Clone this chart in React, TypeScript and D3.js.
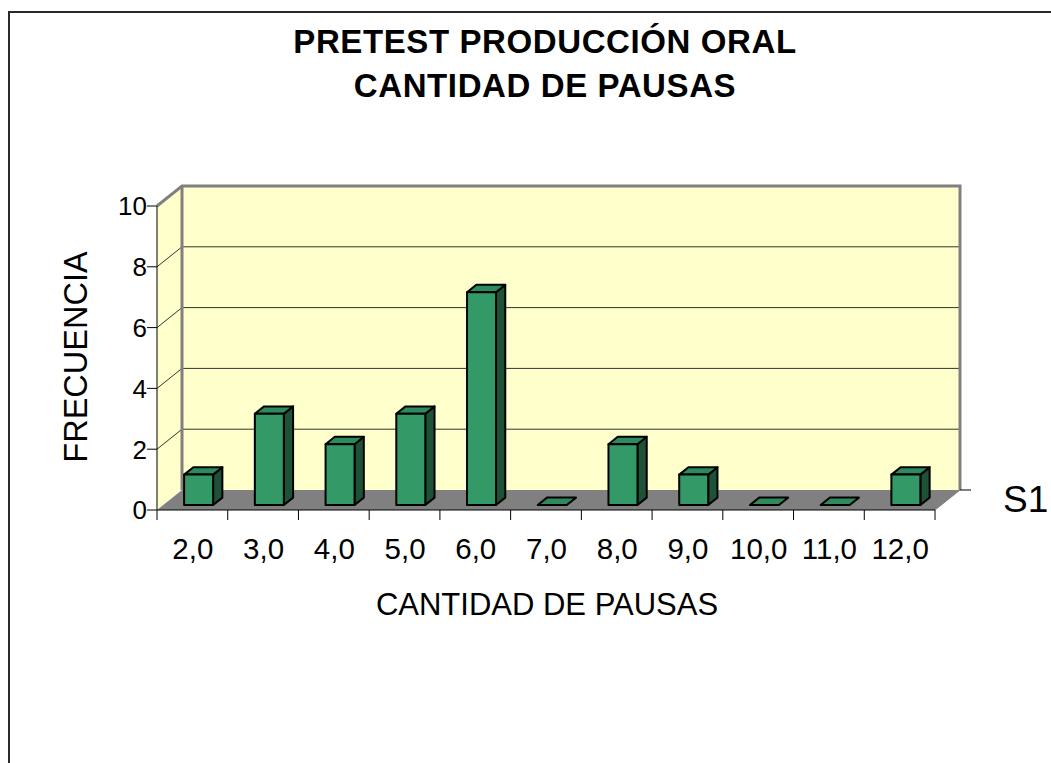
import React from "react";
import * as d3 from "d3";

const categories = ["2,0", "3,0", "4,0", "5,0", "6,0", "7,0", "8,0", "9,0", "10,0", "11,0", "12,0"];
const values = [1, 3, 2, 3, 7, 0, 2, 1, 0, 0, 1];
const yTicks = [0, 2, 4, 6, 8, 10];
const titleLines = ["PRETEST PRODUCCIÓN ORAL", "CANTIDAD DE PAUSAS"];
const xTitle = "CANTIDAD DE PAUSAS";
const yTitle = "FRECUENCIA";
const seriesName = "S1";

const W = 1051, H = 763;
const FONT = "Liberation Sans, Arial, sans-serif";

export default function App() {
  const x = d3.scaleBand<string>().domain(categories).range([157, 935]).padding(0);
  const y = d3.scaleLinear().domain([0, 10]).range([510, 206]);
  const DX = 25, DY = -20;
  const dxs = d3.scaleLinear().domain([0, 1]).range([0, DX]);
  const dys = d3.scaleLinear().domain([0, 1]).range([0, DY]);
  const f1 = 0.25, f2 = 0.62;
  const bw = x.bandwidth() * 0.41;
  const x0 = 157, x1 = 935, y0 = y(0), yTop = y(10);

  const pts = (p: number[][]) => p.map((q) => q.join(",")).join(" ");

  const bars = categories.map((c, i) => {
    const v = values[i];
    const cx = (x(c) as number) + x.bandwidth() / 2;
    const l = cx - bw / 2 + dxs(f1), r = cx + bw / 2 + dxs(f1);
    const yb = y(0) + dys(f1), yt = y(v) + dys(f1);
    const ddx = dxs(f2) - dxs(f1), ddy = dys(f2) - dys(f1);
    const front = [[l, yt], [r, yt], [r, yb], [l, yb]];
    const side = [[r, yt], [r + ddx, yt + ddy], [r + ddx, yb + ddy], [r, yb]];
    const top = [[l, yt], [l + ddx, yt + ddy], [r + ddx, yt + ddy], [r, yt]];
    return (
      <g key={c} stroke="#000" strokeWidth={2} strokeLinejoin="round">
        {v > 0 && <polygon points={pts(side)} fill="#1e5236" />}
        <polygon points={pts(top)} fill="#2e8a5c" />
        {v > 0 && <polygon points={pts(front)} fill="#339966" />}
      </g>
    );
  });

  return (
    <svg width={W} height={H} style={{ position: "absolute", left: 0, top: 0, background: "#fff" }} fontFamily={FONT}>
      <rect x={9} y={12} width={1200} height={900} fill="#fff" stroke="#2a2a2a" strokeWidth={2} />
      {titleLines.map((t, i) => (
        <text key={t} x={545} y={53 + i * 44} textAnchor="middle" fontSize={33} letterSpacing={0.6} fontWeight="bold" fill="#000">{t}</text>
      ))}
      {/* side wall */}
      <polygon points={pts([[x0, yTop], [x0 + DX, yTop + DY], [x0 + DX, y0 + DY], [x0, y0]])} fill="#ffffcc" />
      {/* back wall */}
      <rect x={x0 + DX} y={yTop + DY} width={x1 - x0} height={y0 - yTop} fill="#ffffcc" />
      {/* floor */}
      <polygon points={pts([[x0, y0], [x1, y0], [x1 + DX, y0 + DY], [x0 + DX, y0 + DY]])} fill="#808080" />
      {/* gridlines */}
      {yTicks.filter((t) => t > 0 && t < 10).map((t) => (
        <g key={t} stroke="#333" strokeWidth={1}>
          <line x1={x0} y1={y(t)} x2={x0 + DX} y2={y(t) + DY} />
          <line x1={x0 + DX} y1={y(t) + DY} x2={x1 + DX} y2={y(t) + DY} />
        </g>
      ))}
      {/* wall borders */}
      <polyline points={pts([[x0, yTop], [x0 + DX, yTop + DY], [x1 + DX, yTop + DY], [x1 + DX, y0 + DY]])} fill="none" stroke="#808080" strokeWidth={3} />
      <line x1={x0 + DX} y1={yTop + DY} x2={x0 + DX} y2={y0 + DY} stroke="#808080" strokeWidth={3} />
      {/* depth axis */}
      <line x1={x1} y1={y0} x2={x1 + DX} y2={y0 + DY} stroke="#808080" strokeWidth={1} />
      <line x1={x1 + DX} y1={y0 + DY} x2={x1 + DX + 11} y2={y0 + DY} stroke="#000" strokeWidth={1} />
      <text x={1003} y={512} fontSize={37} fill="#000">{seriesName}</text>
      {/* y axis */}
      <line x1={x0} y1={yTop} x2={x0} y2={y0} stroke="#000" strokeWidth={1} />
      {yTicks.map((t) => (
        <g key={t}>
          <line x1={x0 - 10} y1={y(t)} x2={x0} y2={y(t)} stroke="#000" />
          <text x={x0 - 10} y={y(t)} dy="0.36em" textAnchor="end" fontSize={26} fill="#000">{t}</text>
        </g>
      ))}
      {/* x axis */}
      <line x1={x0} y1={y0} x2={x1} y2={y0} stroke="#000" strokeWidth={1} />
      {[...categories.map((c) => x(c) as number), x1].map((p, i) => (
        <line key={i} x1={p} y1={y0} x2={p} y2={y0 + 10} stroke="#000" />
      ))}
      {categories.map((c) => (
        <text key={c} x={(x(c) as number) + x.bandwidth() / 2 + 0.5} y={559} textAnchor="middle" fontSize={29.5} fill="#000">{c}</text>
      ))}
      {bars}
      <text x={547} y={615} textAnchor="middle" fontSize={31} fill="#000">{xTitle}</text>
      <text transform="translate(87,357) rotate(-90)" textAnchor="middle" fontSize={32.5} fill="#000">{yTitle}</text>
    </svg>
  );
}
